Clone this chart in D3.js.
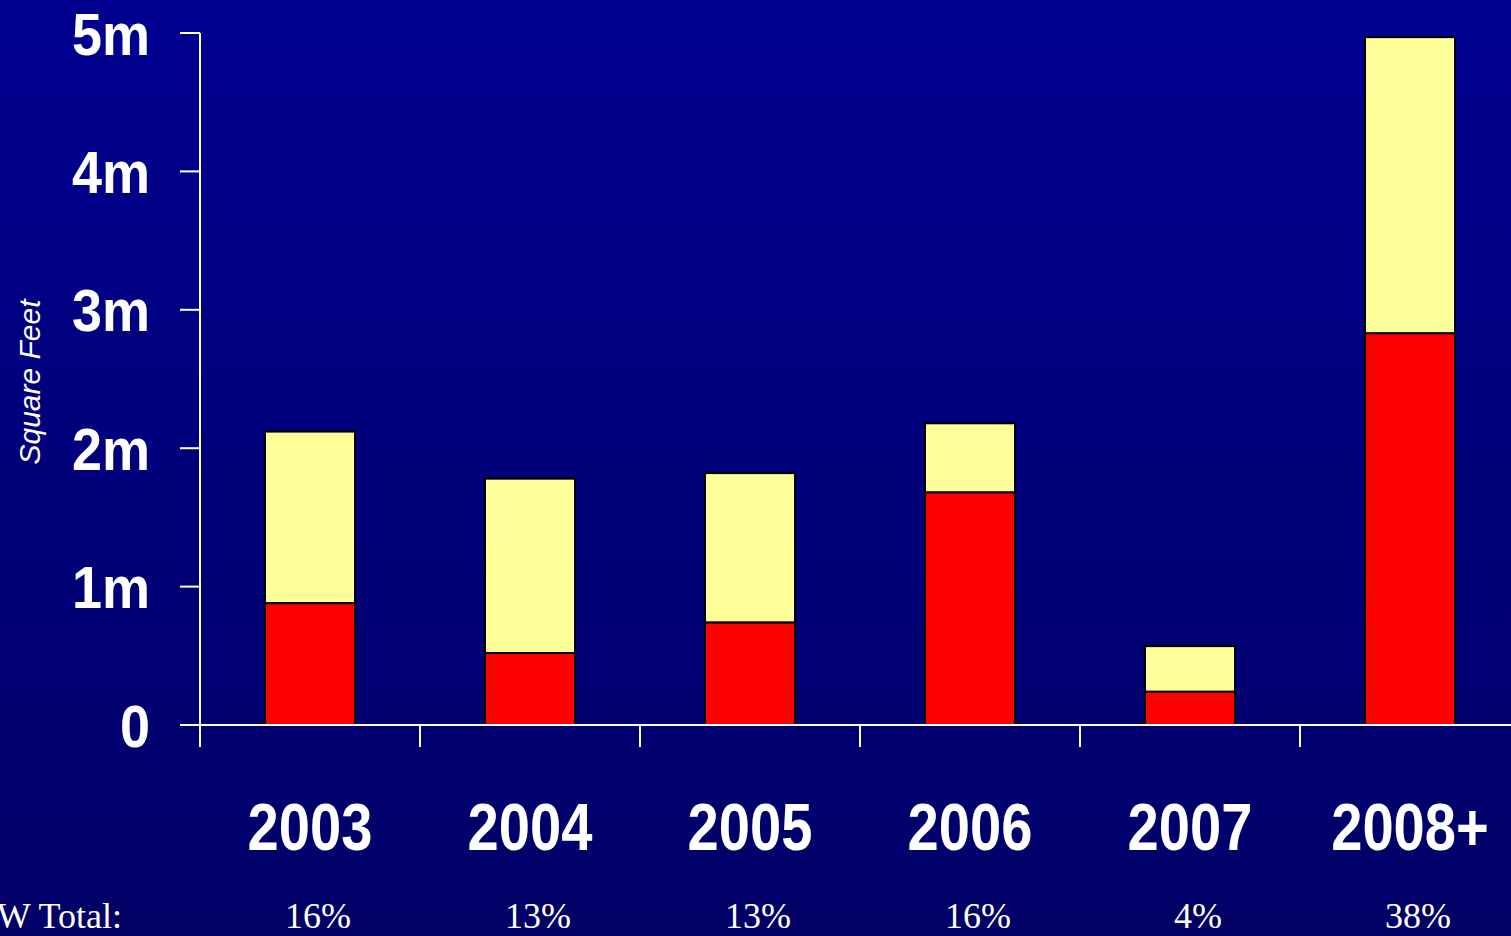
<!DOCTYPE html>
<html><head><meta charset="utf-8">
<script src="https://cdn.jsdelivr.net/npm/d3@7"></script>
<style>body{margin:0;overflow:hidden;background:#000080}</style>
</head><body>
<script>
var years = ["2003","2004","2005","2006","2007","2008+"];
var redValues = [0.88,0.52,0.74,1.68,0.24,2.83];
var totalValues = [2.12,1.78,1.82,2.18,0.57,4.97];
var shares = ["16%","13%","13%","16%","4%","38%"];
var yTicks = [0,1,2,3,4,5];

var W = 1511, H = 936;
var svg = d3.select("body").append("svg").attr("width",W).attr("height",H);

var grad = svg.append("defs").append("linearGradient").attr("id","bg")
  .attr("x1",0).attr("y1",0).attr("x2",0).attr("y2",1);
grad.append("stop").attr("offset","0%").attr("stop-color","#000090");
grad.append("stop").attr("offset","100%").attr("stop-color","#000066");
svg.append("rect").attr("width",W).attr("height",H).attr("fill","url(#bg)");

var x = d3.scaleBand().domain(years).range([200,1520]).paddingInner(0).paddingOuter(0);
var y = d3.scaleLinear().domain([0,5]).range([725,33]);
var bw = 90;

// bars
var g = svg.append("g");
years.forEach(function(yr,i){
  var cx = x(yr) + x.bandwidth()/2;
  g.append("rect").attr("x",cx-bw/2).attr("y",y(totalValues[i]))
    .attr("width",bw).attr("height",y(redValues[i])-y(totalValues[i]))
    .attr("fill","#ffff99").attr("stroke","#000").attr("stroke-width",2);
  g.append("rect").attr("x",cx-bw/2).attr("y",y(redValues[i]))
    .attr("width",bw).attr("height",y(0)-y(redValues[i]))
    .attr("fill","#ff0000").attr("stroke","#000").attr("stroke-width",2);
});

// y axis labels (slightly condensed)
yTicks.forEach(function(d){
  svg.append("line").attr("x1",180).attr("x2",200).attr("y1",y(d)).attr("y2",y(d))
    .attr("stroke","#fff").attr("stroke-width",2);
  svg.append("text").attr("transform","translate(150,"+y(d)+") scale(0.9,1)")
    .attr("text-anchor","end").attr("dy","0.36em").attr("fill","#fff")
    .style("font-family","Liberation Sans, Arial, sans-serif")
    .style("font-weight","bold").style("font-size","60px")
    .text(d===0?"0":d+"m");
});
svg.append("line").attr("x1",200).attr("x2",200).attr("y1",33).attr("y2",725)
  .attr("stroke","#fff").attr("stroke-width",2);

// x axis
svg.append("line").attr("x1",180).attr("x2",W).attr("y1",725).attr("y2",725)
  .attr("stroke","#fff").attr("stroke-width",2);
var xt = years.map(function(yr){return x(yr);});
svg.selectAll(".xt").data(xt).enter().append("line")
  .attr("x1",function(d){return d;}).attr("x2",function(d){return d;})
  .attr("y1",725).attr("y2",747).attr("stroke","#fff").attr("stroke-width",2);

svg.selectAll(".yl").data(years).enter().append("text")
  .attr("transform",function(d){return "translate("+(x(d)+x.bandwidth()/2)+",850) scale(0.85,1)";})
  .attr("text-anchor","middle").attr("fill","#fff")
  .style("font-family","Liberation Sans, Arial, sans-serif")
  .style("font-weight","bold").style("font-size","66px")
  .text(function(d){return d;});

svg.selectAll(".pl").data(shares).enter().append("text")
  .attr("x",function(d,i){return x(years[i])+x.bandwidth()/2+8;}).attr("y",928)
  .attr("text-anchor","middle").attr("fill","#fff")
  .style("font-family","Liberation Serif, Times New Roman, serif")
  .style("font-size","36px")
  .text(function(d){return d;});
svg.append("text").attr("x",122).attr("y",928).attr("text-anchor","end")
  .attr("fill","#fff").style("font-family","Liberation Serif, Times New Roman, serif")
  .style("font-size","36px").text("% of NW Total:");

svg.append("text").attr("transform","translate(40,382) rotate(-90)")
  .attr("text-anchor","middle").attr("fill","#fff")
  .style("font-family","Liberation Sans, Arial, sans-serif")
  .style("font-style","italic").style("font-size","30px").text("Square Feet");
</script>
</body></html>
